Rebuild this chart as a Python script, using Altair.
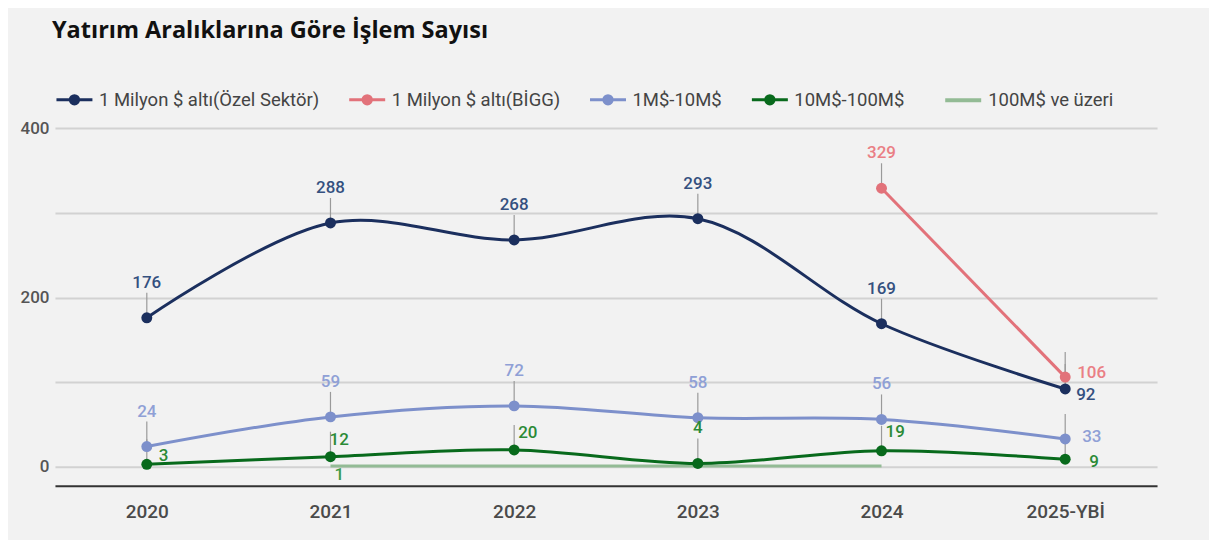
import altair as alt
import pandas as pd

years = ["2020", "2021", "2022", "2023", "2024", "2025-YBİ"]
series_names = ["1 Milyon $ altı(Özel Sektör)", "1 Milyon $ altı(BİGG)",
                "1M$-10M$", "10M$-100M$", "100M$ ve üzeri"]
ozel = [176, 288, 268, 293, 169, 92]
bigg = [None, None, None, None, 329, 106]
m1_10 = [24, 59, 72, 58, 56, 33]
m10_100 = [3, 12, 20, 4, 19, 9]
m100 = [None, 1, 1, 1, 1, None]

line_colors = ["#1b2f5e", "#e2727a", "#7d90cb", "#086a1c", "#93bb95"]
label_colors = ["#34507f", "#ea7f85", "#8fa0d6", "#2b8a36", "#3c9a48"]
line_widths = [3, 3, 4, 3, 4]

rows = []
for s, vals in zip(series_names, [ozel, bigg, m1_10, m10_100, m100]):
    for i, (yr, v) in enumerate(zip(years, vals)):
        if v is not None:
            rows.append({"series": s, "year": yr, "idx": i, "value": v,
                         "key": f"{s}|{yr}", "label": str(v)})
df = pd.DataFrame(rows)

# label placement styles (dx, dy, align); default is above the point
default_place = (0, -35, "center")
special = {
    "10M$-100M$|2020": (12, -8, "left"),
    "10M$-100M$|2021": (-1, -17, "left"),
    "10M$-100M$|2022": (4, -17, "left"),
    "10M$-100M$|2024": (4, -19, "left"),
    "10M$-100M$|2025-YBİ": (24, 3, "left"),
    "1 Milyon $ altı(BİGG)|2025-YBİ": (12, -4, "left"),
    "1 Milyon $ altı(Özel Sektör)|2025-YBİ": (11, 6, "left"),
    "1M$-10M$|2025-YBİ": (17, -2, "left"),
    "100M$ ve üzeri|2021": (4, 9, "left"),
}
hidden = ["100M$ ve üzeri|2022", "100M$ ve üzeri|2023", "100M$ ve üzeri|2024"]

x_enc = alt.X("year:N", sort=years, title=None,
              scale=alt.Scale(type="point", padding=0.5),
              axis=alt.Axis(labelAngle=0, ticks=False, grid=False, domain=True,
                            domainColor="#333333", domainWidth=2,
                            labelFont="Roboto", labelFontSize=19, labelFontWeight=500,
                            labelColor="#4a4a4a", labelPadding=17))
y_scale = alt.Scale(domain=[-22.4, 400], nice=False, zero=False)
y_enc = alt.Y("value:Q", title=None, scale=y_scale,
              axis=alt.Axis(values=[0, 100, 200, 300, 400], domain=False, ticks=False,
                            grid=True, gridColor="#d2d2d2", gridWidth=2,
                            labelExpr="datum.value % 200 == 0 ? datum.label : ''",
                            labelFont="Roboto", labelFontSize=17, labelFontWeight=500,
                            labelColor="#555555", labelPadding=6))

# line with a (filled-looking) dot: concentric rings drawn with the stroke
dot_path = ("M-1,0H1"
            "M-0.083,0A0.083,0.083 0 1,0 0.083,0A0.083,0.083 0 1,0 -0.083,0"
            "M-0.23,0A0.23,0.23 0 1,0 0.23,0A0.23,0.23 0 1,0 -0.23,0")
main_series = series_names[:4]
legend_a = alt.Legend(
    orient="none", legendX=0, legendY=-48, direction="horizontal", title=None,
    symbolType=dot_path, symbolSize=1296, symbolStrokeWidth=3,
    labelFont="Roboto", labelFontSize=18.5, labelColor="#444444", labelLimit=400,
    labelOffset=5, columnPadding=23)
legend_b = alt.Legend(
    orient="none", legendX=889, legendY=-48, direction="horizontal", title=None,
    symbolType="stroke", symbolSize=1296, symbolStrokeWidth=4,
    labelFont="Roboto", labelFontSize=18.5, labelColor="#444444", labelLimit=400,
    labelOffset=5, columnPadding=23)

main_color = alt.Color("series:N", scale=alt.Scale(domain=main_series,
                                                   range=line_colors[:4]),
                       legend=legend_a)
main_color_nolegend = alt.Color("series:N", scale=alt.Scale(domain=main_series,
                                                            range=line_colors[:4]),
                                legend=None)
m100_color = alt.Color("series:N", scale=alt.Scale(domain=[series_names[4]],
                                                   range=[line_colors[4]]),
                       legend=legend_b)

base = alt.Chart(df)
not_m100 = alt.datum.series != "100M$ ve üzeri"
is_m100 = alt.datum.series == "100M$ ve üzeri"

rules = base.transform_filter(not_m100).mark_rule(color="#9a9a9a", strokeWidth=1.2,
                                                   y2Offset=-25).encode(
    x=x_enc, y=y_enc, y2="value:Q")

sw = alt.StrokeWidth("series:N", scale=alt.Scale(domain=series_names, range=line_widths),
                     legend=None)

line_m100 = base.transform_filter(is_m100).mark_line(interpolate="catmull-rom").encode(
    x=x_enc, y=y_enc, color=m100_color, order="idx:Q", strokeWidth=sw)

lines = base.transform_filter(not_m100).mark_line(interpolate="catmull-rom").encode(
    x=x_enc, y=y_enc, color=main_color, order="idx:Q", strokeWidth=sw)

points = base.transform_filter(not_m100).mark_circle(size=120, opacity=1).encode(
    x=x_enc, y=y_enc, color=main_color_nolegend)

fill_enc = alt.Fill("series:N", scale=alt.Scale(domain=series_names, range=label_colors),
                    legend=None)

groups = {}
for k in df["key"]:
    if k in hidden:
        continue
    groups.setdefault(special.get(k, default_place), []).append(k)

texts = []
for (dx, dy, align), keys in groups.items():
    texts.append(
        base.transform_filter(alt.FieldOneOfPredicate(field="key", oneOf=keys))
        .mark_text(dx=dx, dy=dy, align=align, baseline="middle", font="Roboto",
                   fontSize=17, fontWeight=500)
        .encode(x=x_enc, y=y_enc, text="label:N", fill=fill_enc)
    )

chart = alt.layer(rules, line_m100, lines, points, *texts).resolve_scale(
    color="independent"
).properties(
    width=1103, height=358,
    autosize=alt.AutoSizeParams(type="none"),
    padding={"left": 47, "top": 120, "right": 52, "bottom": 54},
    background="#f2f2f2",
    title=alt.TitleParams("Yatırım Aralıklarına Göre İşlem Sayısı", anchor="start",
                          frame="group", font="Open Sans", fontSize=23.5,
                          fontWeight="bold", color="#111111", dx=-3, offset=38),
).configure_view(stroke=None)

chart.save("out.html", embed_options={"renderer": "svg", "actions": False})
